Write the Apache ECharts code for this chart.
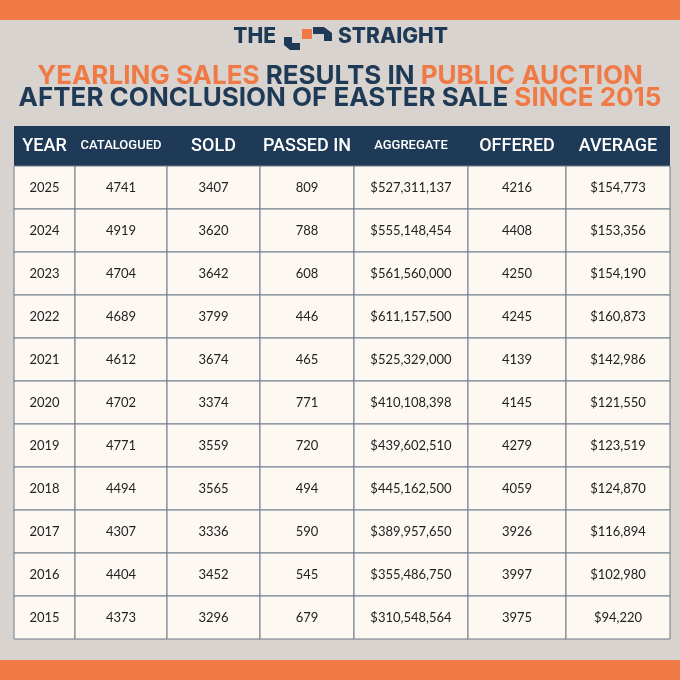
<!DOCTYPE html>
<html><head><meta charset="utf-8">
<script src="https://cdn.jsdelivr.net/npm/echarts@6/dist/echarts.min.js"></script>
<style>html,body{margin:0;padding:0;background:#d8d3cf}#c{width:680px;height:680px}</style>
</head><body><div id="c"></div>
<script>
var headers = ['YEAR','CATALOGUED','SOLD','PASSED IN','AGGREGATE','OFFERED','AVERAGE'];
var years = ['2025','2024','2023','2022','2021','2020','2019','2018','2017','2016','2015'];
var catalogued = [4741,4919,4704,4689,4612,4702,4771,4494,4307,4404,4373];
var sold = [3407,3620,3642,3799,3674,3374,3559,3565,3336,3452,3296];
var passedIn = [809,788,608,446,465,771,720,494,590,545,679];
var aggregate = ['$527,311,137','$555,148,454','$561,560,000','$611,157,500','$525,329,000','$410,108,398','$439,602,510','$445,162,500','$389,957,650','$355,486,750','$310,548,564'];
var offered = [4216,4408,4250,4245,4139,4145,4279,4059,3926,3997,3975];
var average = ['$154,773','$153,356','$154,190','$160,873','$142,986','$121,550','$123,519','$124,870','$116,894','$102,980','$94,220'];

var L=14, R=670, HT=126, HB=166, BOT=639;
var edges=[14,75,167,260,354,468,566,670];
var navy='#1f3a57', orange='#f07a45';
var data=[];
years.forEach(function(y,i){
  var row=[y,catalogued[i],sold[i],passedIn[i],aggregate[i],offered[i],average[i]];
  row.forEach(function(v,j){data.push([j,i,String(v)]);});
});
var chart=echarts.init(document.getElementById('c'));
var tf='700 26px Inter';
var g=[
 {type:'rect',shape:{x:0,y:0,width:680,height:20},style:{fill:orange}},
 {type:'rect',shape:{x:0,y:660,width:680,height:20},style:{fill:orange}},
 {type:'rect',shape:{x:L,y:HT,width:R-L,height:HB-HT},style:{fill:navy}},
 {type:'text',x:276,y:37,style:{text:'THE',font:'800 21px Inter',fill:navy,align:'right',verticalAlign:'middle'}},
 {type:'text',x:338,y:37,style:{text:'STRAIGHT',font:'800 21px Inter',fill:navy,align:'left',verticalAlign:'middle'}},
 {type:'rect',shape:{x:302,y:29,width:10,height:10},style:{fill:orange}},
 {type:'polygon',shape:{points:[[284,37],[292,37],[292,43],[300,43],[300,50],[290,50],[284,45]]},style:{fill:navy}},
 {type:'polygon',shape:{points:[[313,27],[324,27],[332,33],[332,41],[324,41],[324,34],[313,34]]},style:{fill:navy}},
 {type:'text',x:340,y:76,style:{text:'{o|YEARLING SALES }{n|RESULTS IN }{o|PUBLIC AUCTION}',align:'center',verticalAlign:'middle',rich:{o:{font:tf,fill:orange},n:{font:tf,fill:navy}}}},
 {type:'text',x:340,y:98,style:{text:'{n|AFTER CONCLUSION OF EASTER SALE }{o|SINCE 2015}',align:'center',verticalAlign:'middle',rich:{o:{font:tf,fill:orange},n:{font:tf,fill:navy}}}}
];
headers.forEach(function(h,j){
  var small=(h==='CATALOGUED'||h==='AGGREGATE');
  g.push({type:'text',x:(edges[j]+edges[j+1])/2,y:(HT+HB)/2,style:{text:h,align:'center',verticalAlign:'middle',fill:'#fff',font:(small?'500 13px':'500 18px')+' Roboto'}});
});
chart.setOption({
 animation:false,
 grid:{left:L,right:680-R,top:HB,bottom:680-BOT},
 xAxis:{type:'category',data:headers,show:false},
 yAxis:{type:'category',data:years,inverse:true,show:false},
 graphic:{elements:g},
 series:[{type:'custom',data:data,
  renderItem:function(params,api){
    var j=api.value(0);
    var c=api.coord([j,api.value(1)]);
    var h=api.size([0,1])[1];
    var x0=edges[j],x1=edges[j+1];
    return {type:'group',children:[
      {type:'rect',shape:{x:x0,y:c[1]-h/2,width:x1-x0,height:h},style:{fill:'#fdf8f2',stroke:'#6f7c8c',lineWidth:1}},
      {type:'text',x:(x0+x1)/2,y:c[1],style:{text:data[params.dataIndex][2],align:'center',verticalAlign:'middle',font:'13px Lato',fill:'#222'}}
    ]};
  }}]
});
</script></body></html>
